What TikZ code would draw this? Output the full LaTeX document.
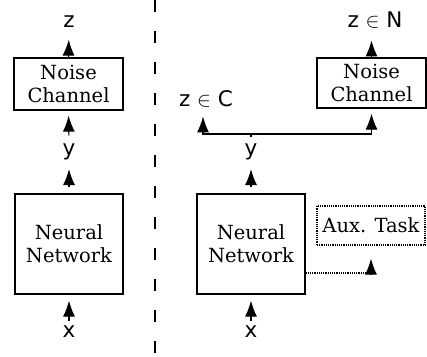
\documentclass[tikz,border=0pt]{standalone}
\usepackage{fontspec}
\setmainfont{DejaVu Serif}
\setsansfont{DejaVu Sans}
\usetikzlibrary{arrows.meta,positioning}

\begin{document}
\begin{tikzpicture}[x=1pt,y=-1pt,
	line width=1.2pt,
	every node/.style={inner sep=0pt},
	box/.style={
		draw,rectangle,align=center,font=\fontsize{19.5}{23}\selectfont
	},
	lbl/.style={
		anchor=base,font=\fontsize{21.5}{24}\selectfont\sffamily
	},
	arr/.style={-{Latex[length=16pt,width=12pt]}}
	]
	\useasboundingbox (0,0) rectangle (427,356);
	% separator
	\draw[line width=2.5pt,dash pattern=on 12pt off 19pt] (155,0) -- (155,356);
	
	\begin{scope}
		% left side
		\node[box,minimum width=109pt,minimum height=52pt] (nc1) at (68.5,84) {Noise\\Channel};
		\node[box,minimum width=108pt,minimum height=100pt] (nn1) at (69,244) {Neural\\Network};
		\node[lbl] (z1) at (69,27) {z};
		\node[lbl] (y1) at (69,155) {y};
		\node[lbl] (x1) at (69,337) {x};
		\draw[arr,shorten >=12pt] (nc1.north) -- (z1.south);
		\draw[arr,shorten <=7pt,shorten >=5pt] (y1.north) -- (nc1.south);
		\draw[arr,shorten <=6pt,shorten >=9pt] (nn1.north) -- (y1.south);
		\draw[arr,shorten <=4pt,shorten >=6pt] (x1.north) -- (nn1.south);
	\end{scope}
	
	\begin{scope}
		% right side
		\node[box,minimum width=109pt,minimum height=50pt] (nc2) at (371.5,83) {Noise\\Channel};
		\node[box,minimum width=108pt,minimum height=100pt] (nn2) at (251,244) {Neural\\Network};
		\node[box,densely dotted,minimum width=108pt,minimum height=39pt] (aux) at (371,225.5) {Aux. Task};
		\node[lbl] (zn) at (375,27) {z $\in$ N};
		\node[lbl] (zc) at (206,106) {z $\in$ C};
		\node[lbl] (y2) at (251,155) {y};
		\node[lbl] (x2) at (251,337) {x};
		\coordinate (j) at (251,134);
		\draw[arr,shorten >=12pt] (nc2.north) -- (zn.south -| nc2.north);
		\draw[shorten <=6pt] (y2.north) -- (j);
		\draw[arr,shorten >=9pt] (j) -| ([xshift=-3pt]zc.south);
		\draw[arr,shorten >=5pt] (j) -| (nc2.south);
		\draw[arr,shorten <=6pt,shorten >=9pt] (nn2.north) -- (y2.south);
		\draw[arr,shorten <=4pt,shorten >=6pt] (x2.north) -- (nn2.south);
		\draw[densely dotted,arr,shorten >=13pt] ([yshift=-29pt]nn2.east) -| (aux.south);
	\end{scope}
\end{tikzpicture}
\end{document}
